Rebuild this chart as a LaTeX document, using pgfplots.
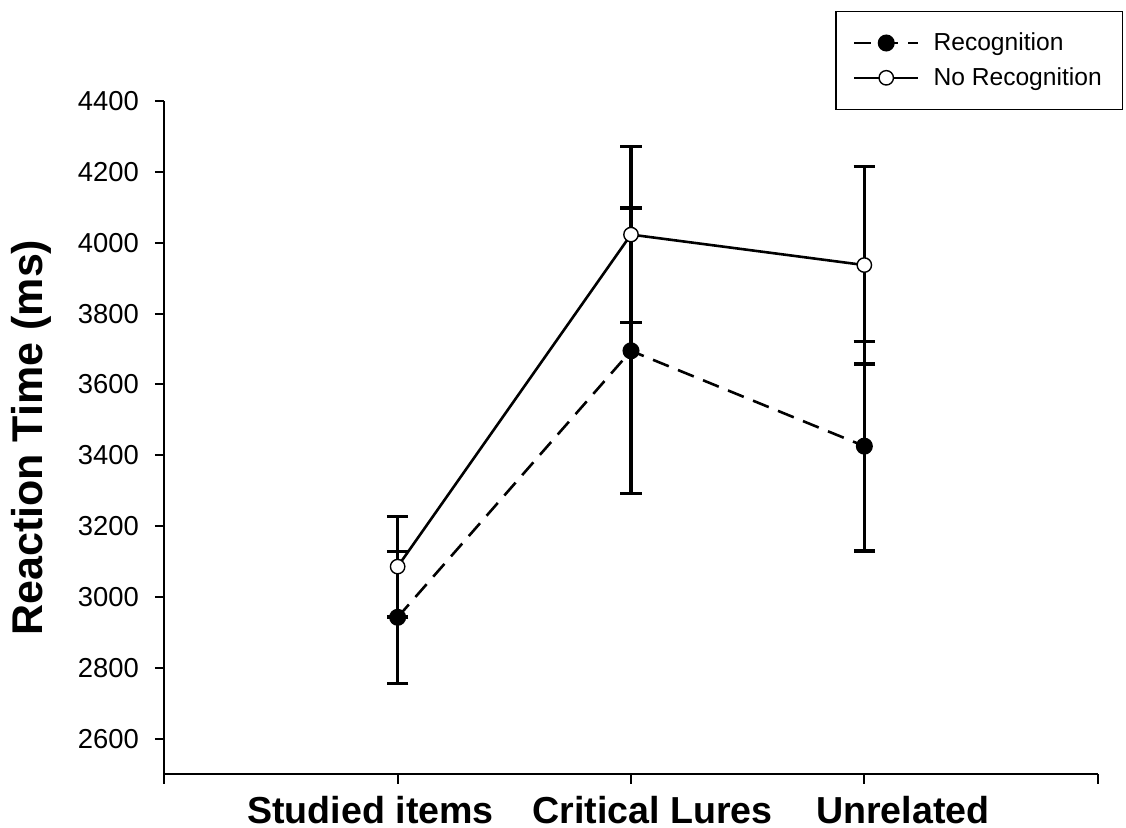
\documentclass[border=0pt]{standalone}
\usepackage{pgfplots}
\pgfplotsset{compat=1.18}
\usepackage{fontspec}
\setmainfont{Liberation Sans}
\begin{document}
\begin{tikzpicture}
\useasboundingbox (-82.15pt,-26.85pt) rectangle (480.85pt,387.15pt);
\begin{axis}[
  at={(0pt,0pt)}, anchor=south west,
  scale only axis, width=466.7pt, height=336.65pt,
  xmin=0, xmax=4, ymin=2500, ymax=4400,
  axis x line*=bottom, axis y line*=left,
  axis line style={-, line width=1pt, black},
  tick align=outside, major tick length=4.7pt,
  tick style={line width=1pt, black},
  xtick={0,1,2,3,4},
  xticklabels={{},\hspace*{-27pt}Studied items,\hspace*{21.7pt}Critical Lures,\hspace*{38.5pt}Unrelated,{}},
  ytick={2600,2800,...,4400},
  scaled y ticks=false,
  yticklabel style={font=\fontsize{13.7}{16}\selectfont, xshift=-4.5pt},
  xticklabel style={font=\bfseries\fontsize{18.8}{22}\selectfont, yshift=-2.5pt},
  ylabel={Reaction Time (ms)},
  ylabel style={font=\bfseries\fontsize{21.5}{24}\selectfont, at={(axis description cs:-0.130,0.5)}, anchor=base},
  legend style={at={(axis description cs:1.0275,1.1337)}, anchor=north east, draw=black, line width=0.6pt,
    font=\fontsize{12.3}{14}\selectfont, inner xsep=8.5pt, inner ysep=8.5pt, row sep=3pt, cells={anchor=west},
    /tikz/every odd column/.append style={column sep=5pt}},
  legend cell align=left,
  legend image code/.code={\draw[mark repeat=2,mark phase=2,#1] plot coordinates {(0pt,0pt)(16pt,0pt)(32pt,0pt)};},
  /pgf/number format/1000 sep={},
  /pgf/number format/assume math mode=true,
]
\addplot[black, line width=1.3pt, dash pattern=on 8.5pt off 5pt, mark=*, mark size=3.6pt,
  mark options={solid, fill=black},
  error bars/.cd, y dir=both, y explicit,
  error bar style={line width=1.6pt, solid},
  error mark options={rotate=90, mark size=5.4pt, line width=1.6pt, solid}]
  coordinates {(1,2943) +- (0,186) (2,3695) +- (0,403) (3,3426) +- (0,296)};
\addlegendentry{Recognition}
\addplot[black, line width=1.3pt, mark=*, mark size=3.6pt,
  mark options={solid, fill=white, draw=black, line width=0.7pt},
  error bars/.cd, y dir=both, y explicit,
  error bar style={line width=1.6pt, solid},
  error mark options={rotate=90, mark size=5.4pt, line width=1.6pt, solid}]
  coordinates {(1,3086) +- (0,142) (2,4023) +- (0,248) (3,3937) +- (0,279)};
\addlegendentry{No Recognition}
\end{axis}
\end{tikzpicture}
\end{document}
